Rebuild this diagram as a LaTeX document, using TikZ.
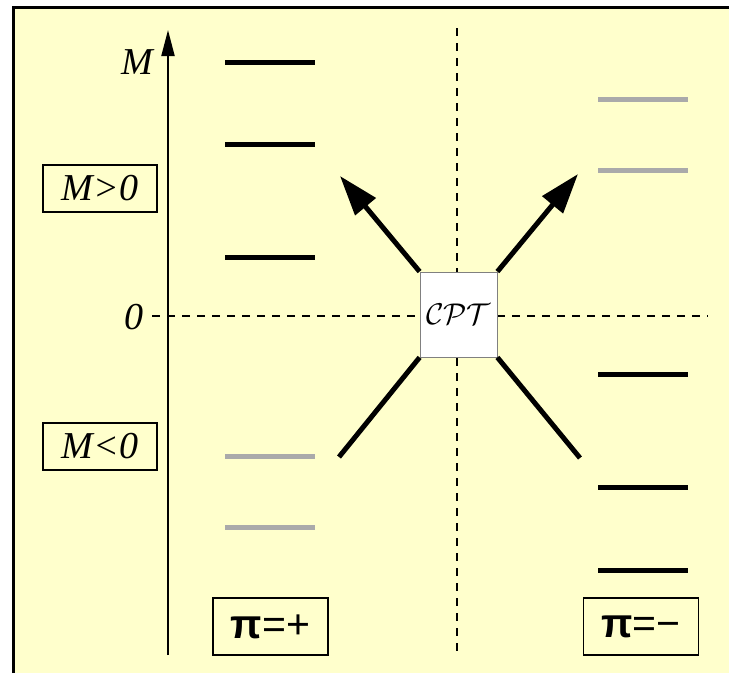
\RequirePackage{fix-cm}
\documentclass[tikz,border=0pt]{standalone}
\usepackage{fontspec}
\setmainfont{Liberation Serif}
\newfontfamily\pifont{Liberation Sans}
\usetikzlibrary{arrows.meta}
\definecolor{paper}{HTML}{FFFFCC}
\definecolor{ghost}{HTML}{AAAAAA}

\begin{document}
\begin{tikzpicture}[x=1pt,y=-1pt,
    axislabel/.style={font=\fontsize{38}{38}\selectfont\itshape},
    signbox/.style={draw, line width=1.5pt, minimum width=114pt, minimum height=47pt,
      inner sep=0pt, font=\fontsize{38}{38}\selectfont\itshape},
    pibox/.style={draw, line width=1.5pt, minimum width=115pt, minimum height=57pt,
      inner sep=0pt, font=\pifont\fontsize{41}{41}\selectfont},
    level/.style={line width=5pt},
    mirror/.style={line width=5pt, ghost},
    guide/.style={line width=1.5pt, dash pattern=on 8pt off 7pt},
    flip/.style={line width=5pt, -{Triangle[length=40pt,width=26pt]}}]
  \useasboundingbox (0,0) rectangle (729,673);
  \fill [paper] (12,6) rectangle (729,673);
  \draw [line width=3pt] (13.5,673) -- (13.5,7.5) -- (729,7.5);

  % axes
  \coordinate (O) at (168,655);
  \coordinate (Mtop) at (168,30);
  \draw [line width=2pt, -{Triangle[length=26pt,width=13pt]}] (O) -- (Mtop);
  \node [axislabel] (M) at (137,62) {M};
  \node [axislabel] (zero) at (134,317) {0};
  \coordinate (hl) at (152,316);
  \coordinate (hr) at (708,316);
  \coordinate (vt) at (457,28);
  \coordinate (vb) at (457,655);
  \draw [guide] (hl) -- (hr);
  \draw [guide] (vt) -- (vb);

  % sign boxes
  \node [signbox] (pos) at (100,188.5) {M>0};
  \node [signbox] (neg) at (100,446.5) {M<0};
  \node [pibox] (piplus) at (270.5,626.5) {\textbf{π}=+};
  \node [pibox] (piminus) at (641,626.5) {\textbf{π}=−};

  % levels
  \draw [level] (225,62) -- (315,62);
  \draw [level] (225,144) -- (315,144);
  \draw [level] (225,257) -- (315,257);
  \draw [mirror] (225,456) -- (315,456);
  \draw [mirror] (225,527) -- (315,527);
  \draw [mirror] (598,99) -- (688,99);
  \draw [mirror] (598,170) -- (688,170);
  \draw [level] (598,374) -- (688,374);
  \draw [level] (598,487) -- (688,487);
  \draw [level] (598,570) -- (688,570);

  % CPT
  \node [draw=gray, line width=0.8pt, fill=white, minimum width=77pt, minimum height=85pt,
    inner sep=0pt, font=\fontsize{30}{30}\selectfont] (cpt) at (458.5,314.5) {$\mathcal{CPT}$};
  \coordinate (ul) at (340,176);
  \coordinate (ur) at (578,174);
  \coordinate (ll) at (339,457);
  \coordinate (lr) at (580,458);
  \draw [flip] (cpt.north west) -- (ul);
  \draw [flip] (cpt.north east) -- (ur);
  \draw [line width=5pt] (cpt.south west) -- (ll);
  \draw [line width=5pt] (cpt.south east) -- (lr);
\end{tikzpicture}
\end{document}
